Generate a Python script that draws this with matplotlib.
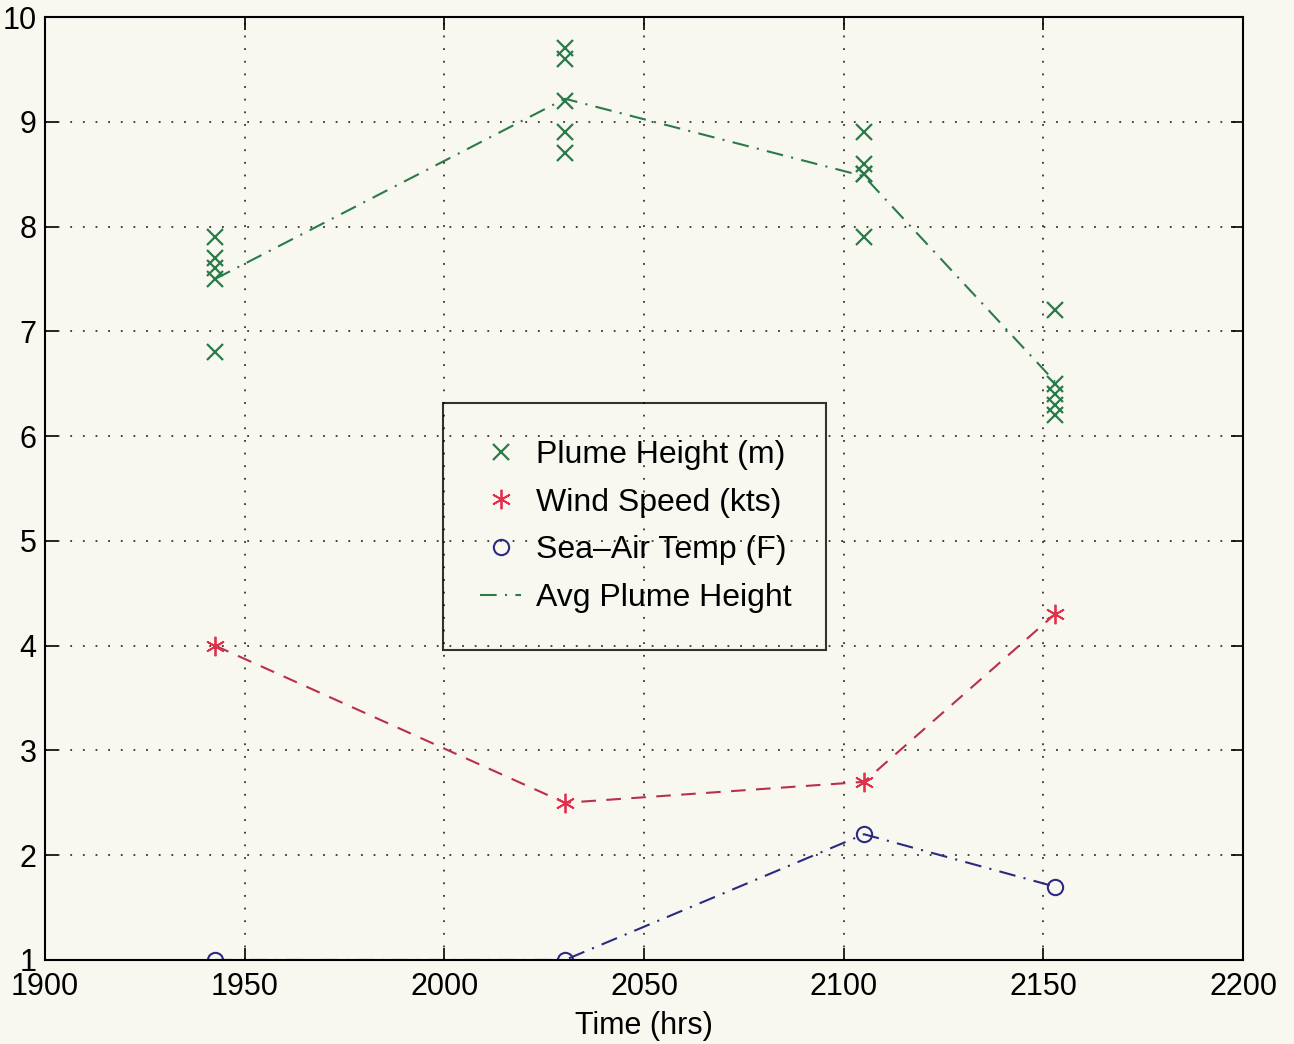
import matplotlib.pyplot as plt
import matplotlib
from matplotlib.lines import Line2D

matplotlib.rc("font", family=['Liberation Sans', 'DejaVu Sans'])

# times of each observation set (hrs)
times = [1942.6, 2030.2, 2105.1, 2152.9]

# individual plume heights (m) for each time
plume_t = [1942.6] * 5 + [2030.2] * 5 + [2105.1] * 5 + [2152.9] * 5
plume_h = [7.9, 7.7, 7.6, 7.5, 6.8,
           9.7, 9.6, 9.2, 8.9, 8.7,
           8.9, 8.6, 8.5, 8.5, 7.9,
           7.2, 6.5, 6.4, 6.3, 6.2]

avg_plume = [7.5, 9.22, 8.48, 6.52]
wind_speed = [4.0, 2.5, 2.7, 4.3]
sea_air = [1.0, 1.0, 2.2, 1.7]

labels = ['Plume Height (m)', 'Wind Speed (kts)', 'Sea\u2013Air Temp (F)',
          'Avg Plume Height']

green = '#2a7a4a'
red = '#e0304a'
blue = '#2a2a80'
bg = '#f8f8f0'
dashdot = (8, 4, 1, 4)
star = (6, 2, 0)


def plume_view():
    fig = plt.figure(figsize=(12.94, 10.44), dpi=100, facecolor=bg)
    ax = fig.add_axes([0.0348, 0.0805, 0.9258, 0.9032], facecolor=bg)

    ax.plot(plume_t, plume_h, ls='none', marker='x', ms=12, mew=1.6,
            color=green)
    ax.plot(times, wind_speed, ls='--', dashes=(7, 5), lw=1.5,
            color='#b8304a')
    ax.plot(times, wind_speed, ls='none', marker=star, ms=14, mew=1.3,
            color=red)
    ax.plot(times, sea_air, ls='-.', dashes=dashdot, lw=1.5, color=blue)
    ax.plot(times, sea_air, ls='none', marker='o', ms=11, mfc='none',
            mew=1.5, color=blue)
    ax.plot(times, avg_plume, ls='-.', dashes=dashdot, lw=1.5, color=green)

    ax.set_xlim(1900, 2200)
    ax.set_ylim(1, 10)
    ax.set_xticks(range(1900, 2201, 50))
    ax.set_yticks(range(1, 11))
    ax.tick_params(direction='in', length=9, width=1.2, labelsize=22,
                   top=True, right=True, pad=9)
    ax.tick_params(axis='y', pad=6)
    for s in ax.spines.values():
        s.set_linewidth(1.5)
    ax.grid(True, ls=(0, (1, 6)), color='#333333', lw=1.3)
    ax.set_xlabel('Time (hrs)', fontsize=22, labelpad=6)

    # legend: markers only for the measured series, line for the average
    handles = [
        Line2D([], [], ls='none', marker='x', ms=12, mew=1.6, color=green),
        Line2D([], [], ls='none', marker=star, ms=14, mew=1.3, color=red),
        Line2D([], [], ls='none', marker='o', ms=11, mfc='none', mew=1.5,
               color=blue),
        Line2D([], [], ls='-.', dashes=dashdot, lw=1.5, color=green),
    ]
    leg = ax.legend(handles, labels, loc='upper left',
                    bbox_to_anchor=(0.3322, 0.3340, 0.3197, 0.2567),
                    mode='expand', fontsize=23,
                    frameon=True, fancybox=False, edgecolor='black',
                    facecolor='none', handlelength=1.3, handletextpad=0.45,
                    labelspacing=0.56, borderpad=1.15, borderaxespad=0)
    leg.get_frame().set_linewidth(1.5)

    plt.savefig('out.png', facecolor=bg)


if __name__ == "__main__":
    plume_view()
